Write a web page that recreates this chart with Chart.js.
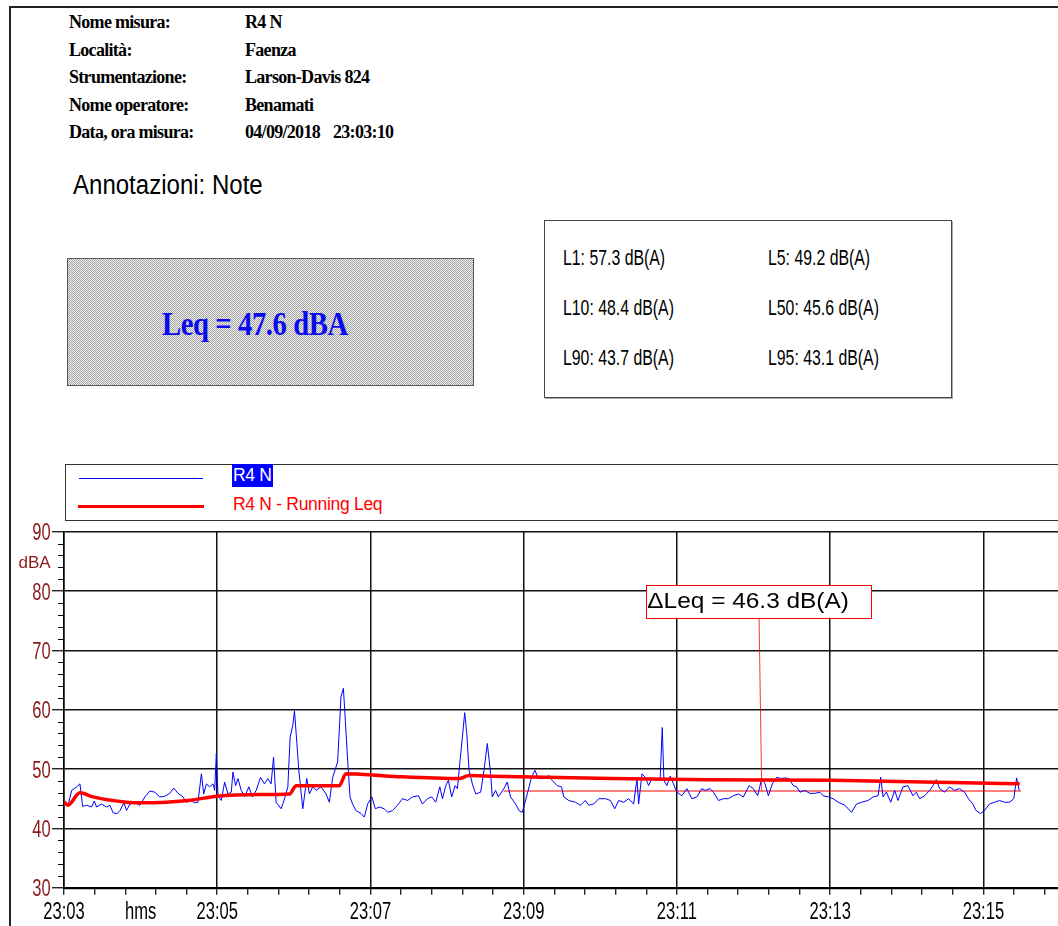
<!DOCTYPE html>
<html>
<head>
<meta charset="utf-8">
<script src="https://cdn.jsdelivr.net/npm/chart.js@4.4.0/dist/chart.umd.min.js"></script>
<style>
  html, body { margin: 0; padding: 0; background: #fff; }
  body { width: 1058px; height: 926px; overflow: hidden; position: relative; font-family: "Liberation Sans", Arial, sans-serif; }
  .abs { position: absolute; white-space: nowrap; line-height: 1; }
  .hdr { font: bold 18px "Liberation Serif", "Times New Roman", serif; letter-spacing: -0.7px; color: #000; }
  .stat { font-size: 22px; color: #000; transform: scaleX(0.72); transform-origin: 0 0; }
  .leg { font-size: 17.5px; letter-spacing: -0.3px; }
  #chartBox { position: absolute; left: 0; top: 520px; width: 1106px; height: 406px; }
</style>
</head>
<body>
<div class="abs" style="left:9px;top:6px;width:2px;height:920px;background:#222"></div>
<div class="abs" style="left:9px;top:6px;width:1049px;height:2px;background:#222"></div>
<div id="header"></div>
<div class="abs" style="left:73px;top:172px;font-size:27px;transform:scaleX(0.89);transform-origin:0 0">Annotazioni: Note</div>
<div class="abs" style="left:67px;top:258px;width:405px;height:126px;border:1px solid #555;background:repeating-conic-gradient(#a4a4a4 0 25%, #f0f0f0 0 50%) 0 0 / 2px 2px"></div>
<div class="abs" id="leqText" style="left:162px;top:306px;font:bold 33px 'Liberation Serif','Times New Roman',serif;color:#0a0aee;letter-spacing:-0.5px;transform:scaleX(0.87);transform-origin:0 0"></div>
<div class="abs" style="left:544px;top:220px;width:406px;height:176px;border:1px solid #444;box-shadow:1px 1px 0 #aaa"></div>
<div id="stats"></div>
<div class="abs" style="left:65px;top:464px;width:1100px;height:55px;border:1px solid #333"></div>
<div class="abs" style="left:79px;top:478px;width:124px;height:1px;background:#0000ff"></div>
<div class="abs" style="left:78px;top:505px;width:126px;height:3px;background:#ff0000"></div>
<div class="abs" style="left:232px;top:464px;width:41px;height:23px;background:#0000ff"></div>
<div class="abs leg" id="legNoise" style="left:233px;top:467px;color:#fff"></div>
<div class="abs leg" id="legLeq" style="left:233px;top:496px;color:#ff0000"></div>
<div id="chartBox"><canvas id="chart" width="1106" height="406"></canvas></div>

<script>
// header info
const headerLabels = ['Nome misura:', 'Località:', 'Strumentazione:', 'Nome operatore:', 'Data, ora misura:'];
const headerValues = ['R4 N', 'Faenza', 'Larson-Davis 824', 'Benamati', '04/09/2018'];
const startClock = '23:03:10';

// summary values
const leqTotal = 47.6;
const statNames = ['L1', 'L5', 'L10', 'L50', 'L90', 'L95'];
const statValues = [57.3, 49.2, 48.4, 45.6, 43.7, 43.1];

// axes
const timeLabels = ['23:03', '23:05', '23:07', '23:09', '23:11', '23:13', '23:15'];
const levelTicks = [30, 40, 50, 60, 70, 80, 90];
const xUnit = 'hms';
const yUnit = 'dBA';

// series name
const seriesName = 'R4 N';

// measured level, seconds from 23:03 and dB(A)
const noiseTimes = [
  0, 3, 6, 9.9, 12.5, 14.6, 17.7, 21.6, 23.7, 25.5,
  29.4, 33.3, 35.9, 38.5, 41.7, 43.8, 46.9, 49.0, 51.6, 55.5,
  59.4, 63.3, 67.2, 71.1, 75.0, 78.9, 82.8, 85.9, 89.3, 93.2,
  95.8, 99.7, 102.3, 104.9, 107.6, 109.4, 111.5, 114.1, 116.7, 118.0,
  119.3, 120.6, 123.2, 125.8, 128.4, 131.0, 132.3, 134.4, 136.2, 138.8,
  141.4, 144.8, 147.4, 150.5, 153.9, 157.0, 159.6, 162.2, 164.1, 166.1,
  170.1, 172.7, 175.3, 177.1, 179.2, 180.5, 181.8, 183.9, 187.0, 190.1,
  192.2, 194.8, 197.4, 201.3, 205.2, 207.8, 210.4, 214.3, 216.9, 218.8,
  220.3, 222.1, 224.0, 226.0, 228.6, 232.6, 235.2, 237.8, 241.1, 243.8,
  246.9, 250.8, 253.5, 257.3, 261.2, 265.1, 269.0, 272.9, 277.6, 280.7,
  284.6, 288.0, 291.1, 294.3, 296.4, 299.0, 301.0, 303.6, 306.3, 308.1,
  309.9, 312.0, 313.8, 315.4, 317.2, 319.8, 322.4, 326.3, 328.9, 331.5,
  334.1, 335.4, 338.0, 340.1, 342.7, 345.3, 347.1, 349.7, 353.6, 356.3,
  358.9, 362.8, 366.1, 368.8, 371.4, 375.8, 379.7, 382.3, 386.2, 389.6,
  391.4, 395.3, 400.5, 404.4, 408.3, 410.9, 414.8, 418.8, 424.0, 427.9,
  431.3, 434.4, 438.3, 442.2, 446.1, 448.7, 450.0, 452.6, 455.2, 457.8,
  460.4, 464.3, 466.9, 468.5, 469.8, 472.1, 474.7, 477.3, 479.9, 483.9,
  487.8, 491.7, 495.6, 499.5, 502.1, 506.0, 508.6, 512.5, 516.4, 520.3,
  524.2, 528.1, 532.0, 536.5, 539.8, 543.2, 546.4, 549.0, 551.6, 554.7,
  558.1, 561.5, 564.6, 567.7, 571.1, 573.7, 576.3, 580.2, 584.1, 588.0,
  591.9, 594.5, 598.4, 602.3, 606.3, 611.5, 616.7, 620.6, 624.5, 629.7,
  633.6, 637.5, 639.6, 641.4, 644.0, 647.4, 650.5, 653.1, 657.0, 660.9,
  664.8, 667.4, 670.1, 674.0, 677.9, 680.5, 683.1, 685.7, 689.6, 693.5,
  697.4, 701.3, 705.2, 708.3, 711.7, 714.3, 717.7, 720.8, 724.7, 728.6,
  732.6, 736.5, 740.4, 743.8, 746.0, 748.0
];
const noiseLevels = [
  44.3, 43.7, 46.4, 47.0, 47.5, 43.7, 43.9, 43.6, 44.6, 43.6,
  44.1, 43.6, 43.9, 42.6, 42.5, 43.0, 44.3, 43.0, 44.1, 44.3,
  43.9, 45.3, 46.3, 46.1, 45.3, 45.4, 45.9, 46.8, 45.9, 45.3,
  44.4, 44.7, 44.3, 44.4, 49.2, 45.8, 47.5, 47.0, 47.5, 46.4,
  52.6, 45.5, 44.7, 47.8, 45.8, 46.1, 49.5, 47.2, 48.4, 46.4,
  45.3, 47.0, 45.3, 46.4, 48.6, 47.5, 48.4, 47.5, 52.0, 44.4,
  43.3, 45.0, 47.0, 55.4, 57.4, 59.8, 56.0, 49.8, 43.3, 48.4,
  45.8, 47.0, 46.4, 47.0, 45.8, 44.4, 48.6, 51.2, 62.2, 63.6,
  58.2, 51.5, 45.3, 44.1, 43.0, 42.5, 41.9, 44.1, 45.3, 43.3,
  43.6, 43.3, 42.7, 43.0, 43.9, 45.0, 44.7, 45.3, 45.5, 44.1,
  45.0, 45.3, 44.4, 47.0, 45.0, 47.2, 48.1, 45.3, 47.2, 46.7,
  50.9, 55.4, 59.5, 56.0, 49.8, 47.5, 45.8, 46.1, 49.8, 54.3,
  49.2, 45.3, 46.4, 45.3, 46.1, 47.0, 47.8, 45.3, 44.1, 43.0,
  42.7, 45.8, 48.6, 49.8, 48.4, 48.4, 48.9, 48.1, 47.2, 47.0,
  45.3, 44.7, 44.4, 43.9, 44.7, 43.9, 44.1, 45.0, 45.0, 44.7,
  43.3, 44.7, 44.4, 45.0, 44.1, 48.4, 44.1, 49.2, 48.6, 47.2,
  48.4, 48.1, 48.6, 57.0, 48.1, 47.2, 48.8, 47.5, 46.1, 45.5,
  46.7, 45.0, 45.3, 46.7, 46.4, 46.7, 46.1, 44.7, 45.0, 45.0,
  45.5, 45.8, 45.3, 47.2, 46.7, 45.5, 48.4, 47.5, 45.5, 47.5,
  48.6, 48.4, 48.5, 48.4, 47.2, 47.0, 46.1, 46.4, 45.9, 45.9,
  46.1, 45.5, 45.3, 45.0, 44.4, 43.9, 42.7, 44.1, 44.4, 44.7,
  45.3, 45.5, 48.6, 45.3, 46.1, 44.4, 46.4, 44.7, 47.0, 47.2,
  45.5, 46.1, 45.0, 45.5, 46.4, 47.2, 48.2, 46.7, 46.1, 47.0,
  46.4, 46.7, 46.1, 45.0, 44.1, 43.0, 42.5, 43.0, 44.1, 44.4,
  44.7, 44.4, 44.4, 45.0, 48.5, 46.4
];

// running Leq
const leqTimes = [0, 3, 12.5, 22.9, 49, 61.9, 101, 119.3, 153.1, 176.6, 181.8, 215.6,
  220.8, 254.7, 309.3, 317.2, 335.4, 377, 429, 504.7, 601, 705.2, 748.4];
const leqValues = [44.5, 43.9, 46.0, 45.3, 44.4, 44.3, 44.8, 45.4, 45.7, 45.8, 47.2, 47.2,
  49.2, 48.8, 48.4, 48.9, 48.8, 48.6, 48.4, 48.2, 48.1, 47.7, 47.5];

// delta Leq cursor
const deltaLeq = 46.3;
const deltaRange = [344.5, 749.5];
const noteBox = { t0: 456, t1: 632, top: 81.0, bottom: 75.5 };
const notePin = { t0: 544.3, t1: 546.4 };

const axisRed = '#8b1a1a';

// page text
let html = '';
headerLabels.forEach((lab, i) => {
  const top = 12.2 + i * 27.5;
  html += `<div class="abs hdr" style="left:69px;top:${top}px">${lab}</div>`;
  html += `<div class="abs hdr" style="left:245px;top:${top}px">${headerValues[i]}</div>`;
});
html += `<div class="abs hdr" style="left:333px;top:${12.2 + 4 * 27.5}px">${startClock}</div>`;
document.getElementById('header').innerHTML = html;
document.getElementById('leqText').textContent = 'Leq = ' + leqTotal.toFixed(1) + ' dBA';

html = '';
statNames.forEach((n, i) => {
  const left = i % 2 === 0 ? 563 : 767.5;
  const top = 247.4 + Math.floor(i / 2) * 50;
  html += `<div class="abs stat" style="left:${left}px;top:${top}px">${n}: ${statValues[i].toFixed(1)} dB(A)</div>`;
});
document.getElementById('stats').innerHTML = html;
document.getElementById('legNoise').textContent = seriesName;
document.getElementById('legLeq').textContent = seriesName + ' - Running Leq';

// draws condensed text like the original print
function squeezed(ctx, text, x, y, align, sx) {
  ctx.save();
  ctx.translate(x, y);
  ctx.scale(sx, 1);
  ctx.textAlign = align;
  ctx.fillText(text, 0, 0);
  ctx.restore();
}

const overlay = {
  id: 'overlay',
  afterDraw(chart) {
    const { ctx, scales: { x, y } } = chart;
    ctx.save();
    // short minor ticks on the level axis
    ctx.strokeStyle = '#000';
    ctx.lineWidth = 1;
    y.ticks.forEach(t => {
      if (t.value % 10 === 0) return;
      const py = Math.round(y.getPixelForValue(t.value)) + 0.5;
      ctx.beginPath();
      ctx.moveTo(x.left - 6, py);
      ctx.lineTo(x.left, py);
      ctx.stroke();
    });

    ctx.textBaseline = 'alphabetic';
    ctx.font = '23px "Liberation Sans", Arial, sans-serif';
    ctx.fillStyle = axisRed;
    levelTicks.forEach(v => squeezed(ctx, String(v), 50.7, y.getPixelForValue(v) + 8.6, 'right', 0.72));
    ctx.fillStyle = '#000';
    timeLabels.forEach((lab, i) => squeezed(ctx, lab, x.getPixelForValue(i * 120), y.bottom + 31.3, 'center', 0.72));
    squeezed(ctx, xUnit, x.getPixelForValue(60), y.bottom + 31.3, 'center', 0.72);

    ctx.fillStyle = axisRed;
    ctx.font = '17px "Liberation Sans", Arial, sans-serif';
    squeezed(ctx, yUnit, 50.7, y.top + 36.3, 'right', 1);

    // delta Leq note
    const bx0 = x.getPixelForValue(noteBox.t0), bx1 = x.getPixelForValue(noteBox.t1);
    const by0 = y.getPixelForValue(noteBox.top), by1 = y.getPixelForValue(noteBox.bottom);
    ctx.strokeStyle = 'rgba(255,0,0,0.8)';
    ctx.beginPath();
    ctx.moveTo(x.getPixelForValue(notePin.t0), by1);
    ctx.lineTo(x.getPixelForValue(notePin.t1), y.getPixelForValue(deltaLeq));
    ctx.stroke();
    ctx.fillStyle = '#fff';
    ctx.fillRect(bx0, by0, bx1 - bx0, by1 - by0);
    ctx.strokeStyle = '#ff0000';
    ctx.strokeRect(Math.round(bx0) + 0.5, Math.round(by0) + 0.5, Math.round(bx1 - bx0), Math.round(by1 - by0));
    ctx.fillStyle = '#000';
    ctx.font = '22px "Liberation Sans", Arial, sans-serif';
    squeezed(ctx, '\u0394Leq = ' + deltaLeq.toFixed(1) + ' dB(A)', bx0 + 1, by0 + 23.3, 'left', 1.11);
    ctx.restore();
  }
};

const clear = 'rgba(0,0,0,0)';

new Chart(document.getElementById('chart'), {
  type: 'line',
  data: {
    datasets: [{
      label: seriesName + ' - Running Leq',
      data: leqTimes.map((t, i) => ({ x: t, y: leqValues[i] })),
      borderColor: '#ff0000',
      borderWidth: 3.5,
      pointRadius: 0,
      cubicInterpolationMode: 'monotone',
      order: 0
    }, {
      label: seriesName,
      data: noiseTimes.map((t, i) => ({ x: t, y: noiseLevels[i] })),
      borderColor: '#0000ff',
      borderWidth: 1,
      pointRadius: 0,
      tension: 0,
      order: 1
    }, {
      label: 'delta Leq',
      data: deltaRange.map(t => ({ x: t, y: deltaLeq })),
      borderColor: 'rgba(255,0,0,0.5)',
      borderWidth: 2,
      pointRadius: 0,
      order: 2
    }]
  },
  options: {
    responsive: false,
    animation: false,
    layout: { padding: { top: 11.7, left: 0, right: 0, bottom: 0 } },
    plugins: { legend: { display: false }, tooltip: { enabled: false } },
    scales: {
      x: {
        type: 'linear',
        min: 0,
        max: 816,
        ticks: { stepSize: 24, display: false, autoSkip: false },
        grid: {
          color: c => (c.tick && c.tick.value % 120 === 0) ? '#111' : clear,
          lineWidth: 1.5,
          drawTicks: true,
          tickLength: 7,
          tickColor: '#000',
          tickWidth: 1.2
        },
        border: { display: true, color: '#000', width: 2.2 },
        afterFit: s => { s.height = 38.3; }
      },
      y: {
        min: 30,
        max: 90,
        ticks: { stepSize: 2, display: false, autoSkip: false },
        grid: {
          color: c => (c.tick && c.tick.value % 10 === 0) ? '#111' : clear,
          lineWidth: 1.5,
          drawTicks: true,
          tickLength: 12,
          tickColor: c => (c.tick && c.tick.value % 10 === 0) ? '#000' : clear,
          tickWidth: 1.2
        },
        border: { display: true, color: '#000', width: 1.5 },
        afterFit: s => { s.width = 64; }
      }
    }
  },
  plugins: [overlay]
});
</script>
</body>
</html>
